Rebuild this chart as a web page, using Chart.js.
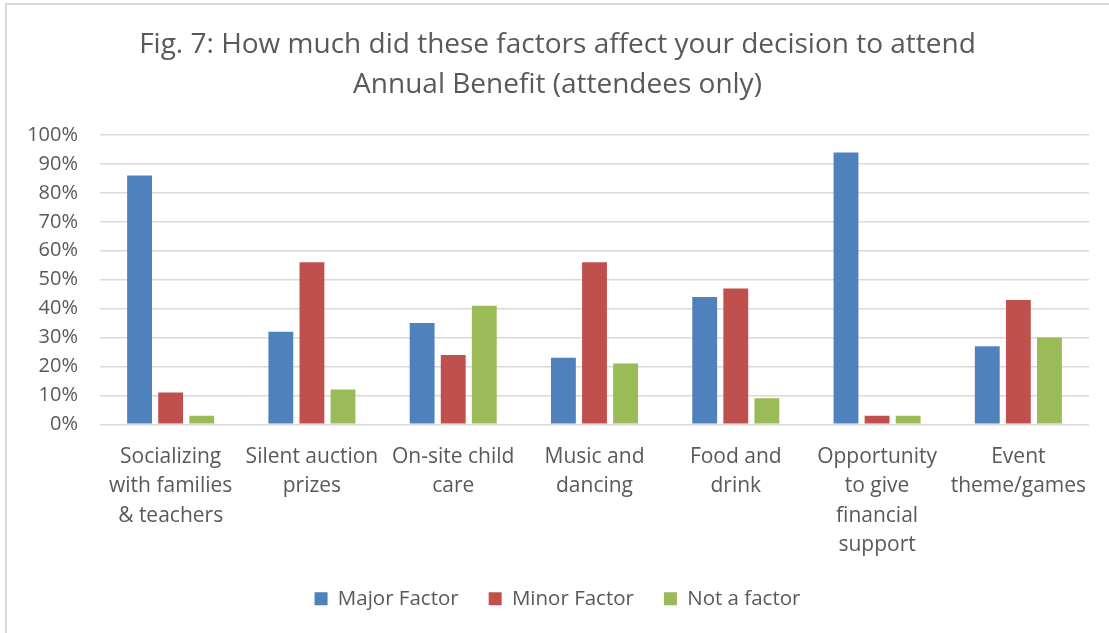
<!DOCTYPE html>
<html lang="en">
<head>
    <meta charset="UTF-8">
    <title>Fig. 7: Annual Benefit factors</title>
    <script src="https://cdn.jsdelivr.net/npm/chart.js"></script>
    <style>
        body {
            margin: 0;
            background-color: #ffffff;
            overflow: hidden;
        }
        .frame {
            position: absolute;
            left: 5px;
            top: 3px;
            width: 1130px;
            height: 660px;
            border: 2px solid #d9d9d9;
        }
        #chart {
            position: absolute;
            left: 0;
            top: 0;
        }
    </style>
</head>
<body>
    <div class="frame"></div>
    <canvas id="chart" width="1109" height="633"></canvas>

    <script>
        const categories = [
            ['Socializing', 'with families', '& teachers'],
            ['Silent auction', 'prizes'],
            ['On-site child', 'care'],
            ['Music and', 'dancing'],
            ['Food and', 'drink'],
            ['Opportunity', 'to give', 'financial', 'support'],
            ['Event', 'theme/games']
        ];
        const majorFactor = [86, 32, 35, 23, 44, 94, 27];
        const minorFactor = [11, 56, 24, 56, 47, 3, 43];
        const notAFactor = [3, 12, 41, 21, 9, 3, 30];
        const yTicks = [0, 10, 20, 30, 40, 50, 60, 70, 80, 90, 100];

        const textColor = '#595959';

        Chart.defaults.font.family = '"Open Sans", sans-serif';
        Chart.defaults.color = textColor;

        function series(label, data, color) {
            return {
                label: label,
                data: data,
                backgroundColor: color,
                borderWidth: 0,
                categoryPercentage: 0.66,
                barPercentage: 0.8
            };
        }

        new Chart(document.getElementById('chart'), {
            type: 'bar',
            data: {
                labels: categories,
                datasets: [
                    series('Major Factor', majorFactor, '#4f81bd'),
                    series('Minor Factor', minorFactor, '#c0504d'),
                    series('Not a factor', notAFactor, '#9bbb59')
                ]
            },
            options: {
                responsive: false,
                animation: false,
                layout: {
                    padding: { left: 26, right: 20, top: 6, bottom: 14 }
                },
                plugins: {
                    title: {
                        display: true,
                        text: ['Fig. 7: How much did these factors affect your decision to attend',
                               'Annual Benefit (attendees only)'],
                        font: { size: 28, weight: 'normal', lineHeight: 1.43 },
                        color: textColor,
                        padding: { top: 19, bottom: 30 }
                    },
                    legend: {
                        position: 'bottom',
                        labels: {
                            boxWidth: 13,
                            boxHeight: 13,
                            padding: 30,
                            font: { size: 20.5 },
                            color: textColor
                        }
                    },
                    tooltip: { enabled: false }
                },
                scales: {
                    x: {
                        grid: { display: false },
                        border: { display: false },
                        afterFit: function (axis) {
                            axis.height -= 11;
                        },
                        ticks: {
                            font: { size: 21, lineHeight: 1.395 },
                            color: textColor,
                            maxRotation: 0,
                            autoSkip: false,
                            padding: 10
                        }
                    },
                    y: {
                        min: 0,
                        max: 100,
                        afterBuildTicks: function (axis) {
                            axis.ticks = yTicks.map(v => ({ value: v }));
                        },
                        afterFit: function (axis) {
                            axis.width = 74;
                        },
                        grid: {
                            color: '#d9d9d9',
                            lineWidth: 1.5,
                            drawTicks: false
                        },
                        border: { display: false },
                        ticks: {
                            font: { size: 20 },
                            color: textColor,
                            padding: 22,
                            callback: v => v + '%'
                        }
                    }
                }
            }
        });
    </script>
</body>
</html>
